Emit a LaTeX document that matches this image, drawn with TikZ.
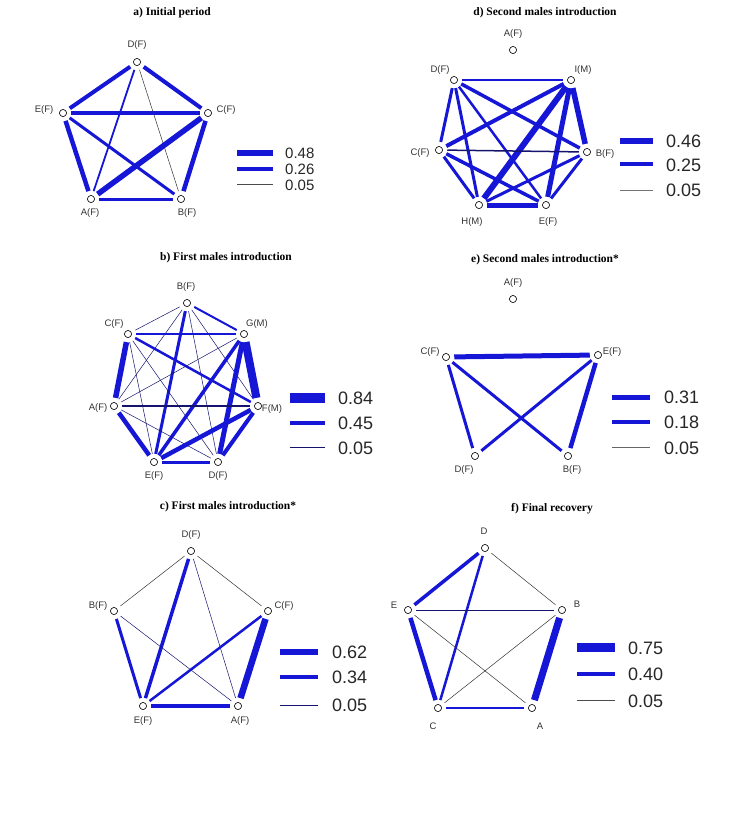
\documentclass[tikz,border=0pt]{standalone}
\usepackage{fontspec}
\setmainfont{Liberation Sans}
\newfontfamily\titlefont{Liberation Serif}
\definecolor{edgeblue}{RGB}{22,22,215}
\definecolor{thinblue}{RGB}{20,20,110}
\begin{document}
\begin{tikzpicture}[x=1pt,y=-1pt,
  vtx/.style={circle,draw=black,fill=white,inner sep=0pt,minimum size=7pt,line width=0.5pt},
  lab/.style={font=\fontsize{9.5}{9.5}\selectfont,text=black!80,inner sep=0pt},
  ttl/.style={font=\titlefont\bfseries\fontsize{11.5}{11.5}\selectfont,inner sep=0pt},
  lgn/.style={font=\fontsize{18}{18}\selectfont,text=black!85,anchor=west,inner sep=0pt},
  lgs/.style={font=\fontsize{15}{15}\selectfont,text=black!85,anchor=west,inner sep=0pt},
  ed/.style={line width=#1,edgeblue,shorten <=4.5pt,shorten >=4.5pt},
  th/.style={line width=0.5pt,thinblue,shorten <=4.5pt,shorten >=4.5pt},
  bar/.style={line width=#1,edgeblue}]
\useasboundingbox (0,0) rectangle (741,823);

% ---------- a ----------
\node[ttl] (ta) at (172,13) {a) Initial period};
\node[vtx] (aD) at (137,62) {}; \node[vtx] (aE) at (63,113) {}; \node[vtx] (aC) at (208,113) {};
\node[vtx] (aA) at (91,199) {}; \node[vtx] (aB) at (181,199) {};
\node[lab] (laD) at (137,45) {D(F)}; \node[lab] (laE) at (44,110) {E(F)}; \node[lab] (laC) at (226,110) {C(F)};
\node[lab] (laA) at (90,213) {A(F)}; \node[lab] (laB) at (187,213) {B(F)};
\draw[ed=4] (aD)--(aE); \draw[ed=4] (aD)--(aC); \draw[ed=4] (aE)--(aC);
\draw[ed=1.8] (aD)--(aA); \draw[th,black!80] (aD)--(aB);
\draw[ed=4.5] (aE)--(aA); \draw[ed=3] (aE)--(aB);
\draw[ed=5.5] (aC)--(aA); \draw[ed=4.5] (aC)--(aB); \draw[ed=3] (aA)--(aB);
\coordinate (a1) at (237,153); \coordinate (a2) at (273,153); \draw[bar=6] (a1)--(a2);
\coordinate (a3) at (237,169); \coordinate (a4) at (273,169); \draw[bar=3.5] (a3)--(a4);
\coordinate (a5) at (237,184); \coordinate (a6) at (273,184); \draw[line width=0.5pt,black!70] (a5)--(a6);
\node[lgs] (la1) at (285,153) {0.48}; \node[lgs] (la2) at (285,169) {0.26}; \node[lgs] (la3) at (285,185) {0.05};

% ---------- d ----------
\node[ttl] (td) at (545,13) {d) Second males introduction};
\node[vtx] (dA) at (513,50) {}; \node[vtx] (dD) at (454,80) {}; \node[vtx] (dI) at (571,80) {};
\node[vtx] (dC) at (439,150) {}; \node[vtx] (dB) at (587,152) {};
\node[vtx] (dH) at (479,205) {}; \node[vtx] (dE) at (546,205) {};
\node[lab] (ldA) at (513,34) {A(F)}; \node[lab] (ldD) at (440,70) {D(F)}; \node[lab] (ldI) at (583,70) {I(M)};
\node[lab] (ldC) at (420,153) {C(F)}; \node[lab] (ldB) at (605,154) {B(F)};
\node[lab] (ldH) at (472,222) {H(M)}; \node[lab] (ldE) at (548,222) {E(F)};
\draw[ed=2.5] (dD)--(dI); \draw[ed=3.5] (dD)--(dB); \draw[ed=3] (dD)--(dC);
\draw[ed=3] (dD)--(dH); \draw[ed=2.5] (dD)--(dE);
\draw[ed=4] (dI)--(dC); \draw[ed=6] (dI)--(dH); \draw[ed=5] (dI)--(dE); \draw[ed=5.5] (dI)--(dB);
\draw[line width=1.5pt,thinblue,shorten <=4.5pt,shorten >=4.5pt] (dC)--(dB);
\draw[ed=3] (dC)--(dH); \draw[ed=3.5] (dC)--(dE);
\draw[ed=3] (dB)--(dH); \draw[ed=3] (dB)--(dE); \draw[ed=5] (dH)--(dE);
\coordinate (d1) at (620,141); \coordinate (d2) at (653,141); \draw[bar=6] (d1)--(d2);
\coordinate (d3) at (620,164); \coordinate (d4) at (653,164); \draw[bar=3.5] (d3)--(d4);
\coordinate (d5) at (620,190); \coordinate (d6) at (653,190); \draw[line width=0.8pt,black!55] (d5)--(d6);
\node[lgn] (ld1) at (666,141) {0.46}; \node[lgn] (ld2) at (666,165) {0.25}; \node[lgn] (ld3) at (666,190) {0.05};

% ---------- b ----------
\node[ttl] (tb) at (226,258) {b) First males introduction};
\node[vtx] (bB) at (187,303) {}; \node[vtx] (bG) at (244,334) {}; \node[vtx] (bC) at (128,334) {};
\node[vtx] (bA) at (114,406) {}; \node[vtx] (bF) at (258,406) {};
\node[vtx] (bE) at (154,462) {}; \node[vtx] (bD) at (218,462) {};
\node[lab] (lbB) at (186,287) {B(F)}; \node[lab] (lbC) at (114,324) {C(F)}; \node[lab] (lbG) at (257,324) {G(M)};
\node[lab] (lbA) at (98,408) {A(F)}; \node[lab] (lbF) at (272,409) {F(M)};
\node[lab] (lbE) at (154,476) {E(F)}; \node[lab] (lbD) at (218,476) {D(F)};
\draw[ed=2] (bB)--(bG); \draw[th] (bB)--(bC); \draw[th] (bB)--(bA); \draw[ed=3] (bB)--(bE);
\draw[th] (bB)--(bD); \draw[th] (bB)--(bF);
\draw[ed=2] (bC)--(bG); \draw[ed=2.5] (bC)--(bF); \draw[ed=5.5] (bC)--(bA);
\draw[th] (bC)--(bE); \draw[th] (bC)--(bD);
\draw[ed=8] (bG)--(bF); \draw[th] (bG)--(bA); \draw[ed=3.5] (bG)--(bE); \draw[ed=5] (bG)--(bD);
\draw[line width=1.5pt,thinblue,shorten <=4.5pt,shorten >=4.5pt] (bA)--(bF);
\draw[ed=4.5] (bA)--(bE); \draw[th] (bA)--(bD);
\draw[ed=4.5] (bF)--(bE); \draw[ed=4] (bF)--(bD); \draw[ed=3] (bE)--(bD);
\coordinate (b1) at (290,398); \coordinate (b2) at (325,398); \draw[bar=10] (b1)--(b2);
\coordinate (b3) at (290,423); \coordinate (b4) at (325,423); \draw[bar=4.5] (b3)--(b4);
\coordinate (b5) at (290,447); \coordinate (b6) at (325,447); \draw[line width=0.8pt,thinblue] (b5)--(b6);
\node[lgn] (lb1) at (338,398) {0.84}; \node[lgn] (lb2) at (338,423) {0.45}; \node[lgn] (lb3) at (338,448) {0.05};

% ---------- e ----------
\node[ttl] (te) at (545,260) {e) Second males introduction*};
\node[vtx] (eA) at (513,299) {}; \node[vtx] (eC) at (446,357) {}; \node[vtx] (eE) at (598,355) {};
\node[vtx] (eD) at (475,456) {}; \node[vtx] (eB) at (568,456) {};
\node[lab] (leA) at (513,283) {A(F)}; \node[lab] (leC) at (430,352) {C(F)}; \node[lab] (leE) at (612,352) {E(F)};
\node[lab] (leD) at (464,470) {D(F)}; \node[lab] (leB) at (572,470) {B(F)};
\draw[ed=5] (eC)--(eE); \draw[ed=3] (eC)--(eD); \draw[ed=3] (eC)--(eB);
\draw[ed=3] (eE)--(eD); \draw[ed=4.5] (eE)--(eB);
\coordinate (e1) at (612,397); \coordinate (e2) at (650,397); \draw[bar=5] (e1)--(e2);
\coordinate (e3) at (612,422); \coordinate (e4) at (650,422); \draw[bar=3.5] (e3)--(e4);
\coordinate (e5) at (612,447); \coordinate (e6) at (650,447); \draw[line width=0.8pt,black!60] (e5)--(e6);
\node[lgn] (le1) at (664,397) {0.31}; \node[lgn] (le2) at (664,422) {0.18}; \node[lgn] (le3) at (664,448) {0.05};

% ---------- c ----------
\node[ttl] (tc) at (228,507) {c) First males introduction*};
\node[vtx] (cD) at (191,551) {}; \node[vtx] (cB) at (114,611) {}; \node[vtx] (cC) at (268,611) {};
\node[vtx] (cE) at (143,706) {}; \node[vtx] (cA) at (238,706) {};
\node[lab] (lcD) at (191,535) {D(F)}; \node[lab] (lcB) at (98,606) {B(F)}; \node[lab] (lcC) at (284,606) {C(F)};
\node[lab] (lcE) at (143,721) {E(F)}; \node[lab] (lcA) at (240,721) {A(F)};
\draw[th,black!80] (cD)--(cB); \draw[th,black!80] (cD)--(cC); \draw[ed=3.5] (cD)--(cE); \draw[th] (cD)--(cA);
\draw[ed=3] (cB)--(cE); \draw[th] (cB)--(cA);
\draw[ed=2.5] (cC)--(cE); \draw[ed=6.5] (cC)--(cA); \draw[ed=4.5] (cE)--(cA);
\coordinate (c1) at (280,652); \coordinate (c2) at (318,652); \draw[bar=6] (c1)--(c2);
\coordinate (c3) at (280,677); \coordinate (c4) at (318,677); \draw[bar=4] (c3)--(c4);
\coordinate (c5) at (280,705); \coordinate (c6) at (318,705); \draw[line width=0.8pt,thinblue] (c5)--(c6);
\node[lgn] (lc1) at (332,652) {0.62}; \node[lgn] (lc2) at (332,677) {0.34}; \node[lgn] (lc3) at (332,705) {0.05};

% ---------- f ----------
\node[ttl] (tf) at (552,509) {f) Final recovery};
\node[vtx] (fD) at (485,548) {}; \node[vtx] (fE) at (408,610) {}; \node[vtx] (fB) at (562,610) {};
\node[vtx] (fC) at (438,708) {}; \node[vtx] (fA) at (532,708) {};
\node[lab] (lfD) at (484,531) {D}; \node[lab] (lfE) at (394,605) {E}; \node[lab] (lfB) at (577,604) {B};
\node[lab] (lfC) at (433,726) {C}; \node[lab] (lfA) at (540,726) {A};
\draw[ed=3.5] (fD)--(fE); \draw[th,black!80] (fD)--(fB); \draw[ed=2.5] (fD)--(fC);
\draw[th] (fE)--(fB); \draw[ed=4.5] (fE)--(fC); \draw[th,black!80] (fE)--(fA);
\draw[th,black!80] (fB)--(fC); \draw[ed=7] (fB)--(fA); \draw[ed=2.5] (fC)--(fA);
\coordinate (f1) at (577,647); \coordinate (f2) at (615,647); \draw[bar=9] (f1)--(f2);
\coordinate (f3) at (577,674); \coordinate (f4) at (615,674); \draw[bar=4.5] (f3)--(f4);
\coordinate (f5) at (577,700); \coordinate (f6) at (615,700); \draw[line width=0.6pt,black!70] (f5)--(f6);
\node[lgn] (lf1) at (628,648) {0.75}; \node[lgn] (lf2) at (628,674) {0.40}; \node[lgn] (lf3) at (628,701) {0.05};

% redraw vertices on top
\foreach \n in {aD,aE,aC,aA,aB,dA,dD,dI,dC,dB,dH,dE,bB,bG,bC,bA,bF,bE,bD,eA,eC,eE,eD,eB,cD,cB,cC,cE,cA,fD,fE,fB,fC,fA}
  \node[vtx] at (\n) {};
\end{tikzpicture}
\end{document}
